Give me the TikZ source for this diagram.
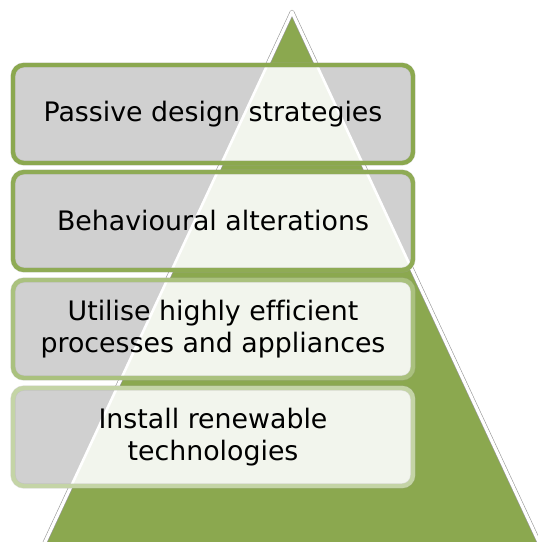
\documentclass[tikz,border=0pt]{standalone}
\usepackage{fontspec}
\setmainfont[Ligatures=NoCommon]{DejaVu Sans}
\begin{document}
\begin{tikzpicture}[x=1pt,y=-1pt,
  tri/.style={line join=round},
  level/.style={rounded corners=11pt},
  label/.style={align=center,font=\fontsize{26.8}{31.5}\selectfont,text=black}]
\definecolor{leaf}{RGB}{139,168,79}
\definecolor{panel}{RGB}{208,208,208}
\definecolor{pale}{RGB}{242,245,237}
\definecolor{edgeA}{RGB}{139,168,79}
\definecolor{edgeB}{RGB}{143,171,85}
\definecolor{edgeC}{RGB}{170,193,126}
\definecolor{edgeD}{RGB}{196,212,166}
\useasboundingbox (0,0) rectangle (538,542);
% pyramid outline points
\coordinate (apex) at (292,12);
\coordinate (bl) at (33,568);
\coordinate (br) at (551,568);
\begin{scope}
  \clip (0,0) rectangle (538,542);
  \fill[leaf] (apex) -- (bl) -- (br) -- cycle;
  \draw[tri,black!40,line width=4.4pt] (apex) -- (bl) -- (br) -- cycle;
  \draw[tri,white,line width=3.2pt] (apex) -- (bl) -- (br) -- cycle;
\end{scope}
% the four tiers
\foreach \t/\col [count=\i] in {65/edgeA,172/edgeB,280/edgeC,388/edgeD}{
  \coordinate (tl\i) at (13,\t);
  \coordinate (lr\i) at (413,\t+98);
  \begin{scope}
    \clip[level] (tl\i) rectangle (lr\i);
    \fill[panel] (tl\i) rectangle (lr\i);
    \fill[pale] (apex) -- (bl) -- (br) -- cycle;
    \draw[tri,white,line width=2.6pt] (apex) -- (bl) -- (br) -- cycle;
  \end{scope}
  \draw[level,black!35,line width=5.4pt,opacity=0.3] (tl\i) rectangle (lr\i);
  \draw[level,\col,line width=4.4pt] (tl\i) rectangle (lr\i);
}
\node[label] (t1) at (213,114) {Passive design strategies};
\node[label] (t2) at (213,221) {Behavioural alterations};
\node[label] (t3) at (213,329) {Utilise highly efficient\\processes and appliances};
\node[label] (t4) at (213,437) {Install renewable\\technologies};
\end{tikzpicture}
\end{document}
